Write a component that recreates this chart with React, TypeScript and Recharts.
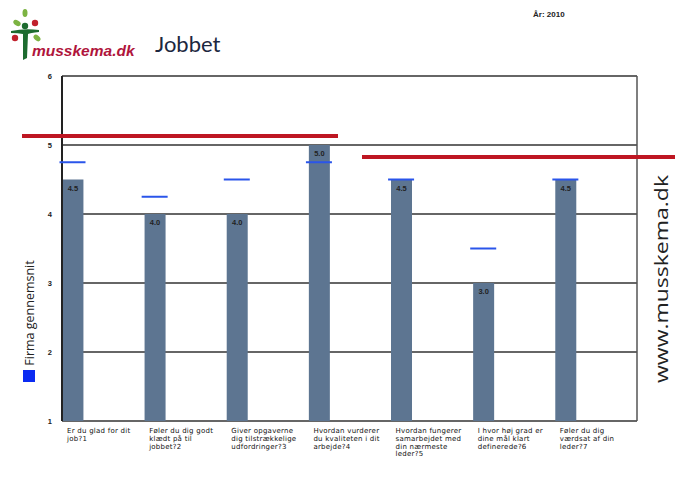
import React from 'react';
import { ComposedChart, Bar, Scatter, XAxis, YAxis, CartesianGrid, LabelList } from 'recharts';

// spørgsmål (kategorier), hver linje som den står i figuren
const questions = [
  ['Er du glad for dit', 'job?1'],
  ['Føler du dig godt', 'klædt på til', 'jobbet?2'],
  ['Giver opgaverne', 'dig tilstrækkelige', 'udfordringer?3'],
  ['Hvordan vurderer', 'du kvaliteten i dit', 'arbejde?4'],
  ['Hvordan fungerer', 'samarbejdet med', 'din nærmeste', 'leder?5'],
  ['I hvor høj grad er', 'dine mål klart', 'definerede?6'],
  ['Føler du dig', 'værdsat af din', 'leder?7'],
];
const scores = [4.5, 4.0, 4.0, 5.0, 4.5, 3.0, 4.5];
const firmAverage = [4.75, 4.25, 4.5, 4.75, 4.5, 3.5, 4.5];
const yTicks = [1, 2, 3, 4, 5, 6];

const W = 675;
const H = 498;
const Y_W = 20;
const X_H = 40;
const PLOT = { left: 62, right: 637, top: 76, bottom: 421 };
const M = { top: PLOT.top, right: W - PLOT.right - 1, bottom: H - PLOT.bottom - X_H, left: PLOT.left - Y_W };
const BAND = (PLOT.right - PLOT.left) / questions.length;
const BAR_W = 21;
const SHIFT = (BAND - BAR_W) / 2; // søjlen står i venstre side af båndet

const BAR_COLOR = '#5d7591';
const AVG_COLOR = '#2a55ea';
const SMALL_FONT = '"Liberation Sans", Arial, sans-serif';

const data = questions.map((q, i) => ({
  name: q.join(' '),
  lines: q,
  score: scores[i],
  avg: firmAverage[i],
}));

const BarShape = (p: any) => (
  <rect x={p.x - SHIFT} y={p.y} width={p.width} height={p.height} fill={BAR_COLOR} />
);

const AvgShape = (p: any) => (
  <line
    x1={p.cx - SHIFT - 13}
    x2={p.cx - SHIFT + 13}
    y1={p.cy}
    y2={p.cy}
    stroke={AVG_COLOR}
    strokeWidth={2}
  />
);

const ScoreLabel = (p: any) => (
  <text
    x={p.x - SHIFT + p.width / 2}
    y={p.y + 11}
    textAnchor="middle"
    fontSize={7.5}
    fontFamily={SMALL_FONT}
    fontWeight="bold"
    fill="#222"
  >
    {Number(p.value).toFixed(1)}
  </text>
);

const QuestionTick = (p: any) => {
  const lines = data[p.index]?.lines ?? [];
  const x0 = p.x - BAND / 2 + 5;
  return (
    <text
      x={x0}
      y={PLOT.bottom + 12}
      fontSize={7}
      letterSpacing={0.25}
      fontFamily='"DejaVu Sans", Verdana, sans-serif'
      fill="#111"
    >
      {lines.map((l: string, i: number) => (
        <tspan key={i} x={x0} dy={i === 0 ? 0 : 7.8}>
          {l}
        </tspan>
      ))}
    </text>
  );
};

const Logo = () => (
  <svg width={140} height={70} style={{ position: 'absolute', left: 0, top: 0 }}>
    <ellipse cx={25} cy={13} rx={2.5} ry={4} fill="#7cb342" />
    <ellipse cx={17} cy={23} rx={4} ry={2.5} fill="#7cb342" transform="rotate(30 17 23)" />
    <ellipse cx={37} cy={38} rx={4} ry={2.5} fill="#7cb342" transform="rotate(40 37 38)" />
    <circle cx={35} cy={23} r={3.2} fill="#c0202c" />
    <circle cx={15} cy={38} r={3.2} fill="#c0202c" />
    <circle cx={25} cy={26} r={3.2} fill="#1d6b2f" />
    <path d="M11 31 Q25 28 39 30 L39 32 Q30 33 28 34 L27 58 L23 60 L23 34 Q18 33 11 33 Z" fill="#1d6b2f" />
    <text
      x={32}
      y={56}
      fontSize={15.5}
      fontFamily={SMALL_FONT}
      fontWeight="bold"
      fontStyle="italic"
      fill="#b0153c"
    >
      musskema.dk
    </text>
  </svg>
);

const App = () => {
  return (
    <div
      style={{
        position: 'absolute',
        left: 0,
        top: 0,
        width: W,
        height: H,
        background: '#fff',
        overflow: 'hidden',
      }}
    >
      <ComposedChart width={W} height={H} data={data} margin={M} barCategoryGap={0}>
        <CartesianGrid vertical={false} stroke="#333" strokeWidth={1.5} />
        <XAxis
          dataKey="name"
          height={X_H}
          axisLine={false}
          tickLine={false}
          interval={0}
          tick={<QuestionTick />}
        />
        <YAxis
          domain={[1, 6]}
          ticks={yTicks}
          width={Y_W}
          axisLine={{ stroke: '#222', strokeWidth: 2 }}
          tickLine={false}
          tickMargin={4}
          tick={{ fontSize: 7.5, fontWeight: 'bold', fill: '#222', fontFamily: SMALL_FONT }}
        />
        <YAxis
          yAxisId="right"
          orientation="right"
          domain={[1, 6]}
          width={1}
          tick={false}
          tickLine={false}
          axisLine={{ stroke: '#555', strokeWidth: 1.5 }}
        />
        <Bar dataKey="score" barSize={BAR_W} shape={<BarShape />} isAnimationActive={false}>
          <LabelList dataKey="score" content={<ScoreLabel />} />
        </Bar>
        <Scatter dataKey="avg" shape={<AvgShape />} isAnimationActive={false} />
      </ComposedChart>

      <Logo />
      <div
        style={{
          position: 'absolute',
          left: 155,
          top: 31,
          fontFamily: 'Lato, "Open Sans", sans-serif',
          fontSize: 22,
          color: '#1c2740',
          lineHeight: '26px',
        }}
      >
        Jobbet
      </div>
      <div
        style={{
          position: 'absolute',
          left: 533,
          top: 10,
          fontFamily: SMALL_FONT,
          fontSize: 8,
          fontWeight: 'bold',
          color: '#222',
        }}
      >
        År: 2010
      </div>

      {/* røde markeringer ovenpå figuren */}
      <div style={{ position: 'absolute', left: 22, top: 134, width: 316, height: 3.5, background: '#be1622' }} />
      <div style={{ position: 'absolute', left: 362, top: 155, width: 313, height: 3.5, background: '#be1622' }} />

      <svg width={W} height={H} style={{ position: 'absolute', left: 0, top: 0, pointerEvents: 'none' }}>
        <rect x={23} y={370} width={12} height={12} fill="#0b2bf2" />
        <text
          x={0}
          y={0}
          transform="translate(34 313) rotate(-90)"
          textAnchor="middle"
          fontSize={12.5}
          fontFamily='"Open Sans", sans-serif'
          fill="#222"
        >
          Firma gennemsnit
        </text>
        <text
          x={0}
          y={0}
          transform="translate(668 279) rotate(-90)"
          textAnchor="middle"
          fontSize={19}
          textLength={208}
          lengthAdjust="spacingAndGlyphs"
          fontFamily='"Open Sans", sans-serif'
          fill="#222"
        >
          www.musskema.dk
        </text>
      </svg>
    </div>
  );
};

export default App;
